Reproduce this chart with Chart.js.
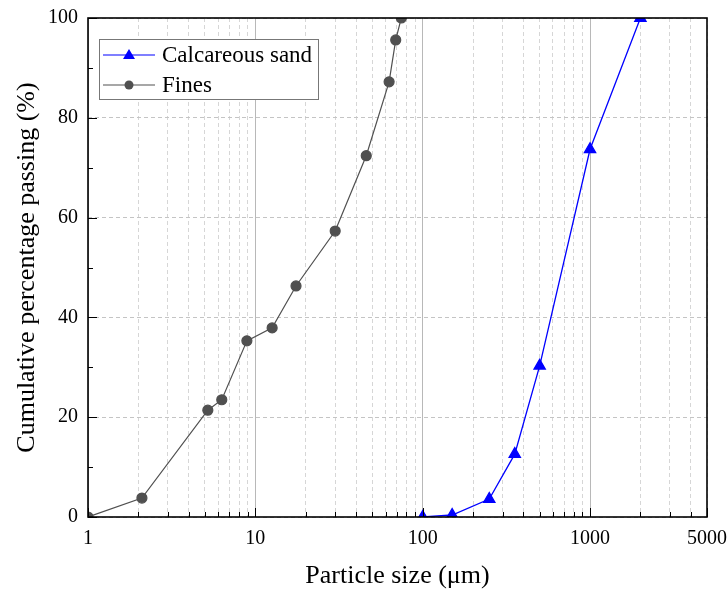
<!DOCTYPE html>
<html>
<head>
<meta charset="utf-8">
<script src="https://cdn.jsdelivr.net/npm/chart.js@4.4.0/dist/chart.umd.min.js"></script>
<style>
  html, body { margin: 0; padding: 0; background: #fff; }
  #wrap { width: 728px; height: 592px; }
</style>
</head>
<body>
<div id="wrap"><canvas id="psd"></canvas></div>
<script>
// Datos
const fineSizes = [1, 2.1, 5.2, 6.3, 8.9, 12.6, 17.5, 30, 46, 63, 69, 74.5];
const finePassing = [0, 3.8, 21.4, 23.5, 35.3, 37.9, 46.3, 57.3, 72.4, 87.2, 95.6, 100];
const sandSizes = [100, 150, 250, 355, 500, 1000, 2000];
const sandPassing = [0, 0.4, 3.6, 12.6, 30.3, 73.7, 100];
const xTickLabels = [1, 10, 100, 1000, 5000];
const yTickLabels = [0, 20, 40, 60, 80, 100];

const FONT = "'Liberation Serif', 'Times New Roman', serif";
const SAND_COLOR = "#0000ff";
const FINE_COLOR = "#505050";

function toPoints(xs, ys) {
  return xs.map((x, i) => ({ x: x, y: ys[i] }));
}

// valores de la rejilla logarítmica (1..9 por década hasta 5000)
function logGridValues() {
  const vals = [];
  for (let d = 1; d <= 1000; d *= 10) {
    for (let m = 1; m <= 9; m++) {
      const v = m * d;
      if (v <= 5000) vals.push(v);
    }
  }
  return vals;
}

function isDecade(v) {
  const l = Math.log10(v);
  return Math.abs(l - Math.round(l)) < 1e-9;
}

// Marco negro y marcas hacia dentro
const framePlugin = {
  id: "frame",
  afterDraw(chart) {
    const { ctx, chartArea: a, scales } = chart;
    ctx.save();
    ctx.strokeStyle = "#000";
    ctx.lineWidth = 1;
    // marcas del eje x
    scales.x.ticks.forEach((t) => {
      const px = Math.round(scales.x.getPixelForValue(t.value)) + 0.5;
      const len = isDecade(t.value) || t.value === 5000 ? 9 : 5;
      ctx.beginPath();
      ctx.moveTo(px, a.bottom);
      ctx.lineTo(px, a.bottom - len);
      ctx.stroke();
    });
    // marcas del eje y (mayores y menores)
    for (let v = 0; v <= 100; v += 10) {
      const py = Math.round(scales.y.getPixelForValue(v)) + 0.5;
      const len = v % 20 === 0 ? 9 : 5;
      ctx.beginPath();
      ctx.moveTo(a.left, py);
      ctx.lineTo(a.left + len, py);
      ctx.stroke();
    }
    ctx.lineWidth = 1.6;
    ctx.strokeRect(a.left, a.top, a.right - a.left, a.bottom - a.top);
    ctx.restore();
  },
};

// Leyenda dentro del área del gráfico
const legendBoxPlugin = {
  id: "legendBox",
  afterDraw(chart) {
    const { ctx, chartArea: a } = chart;
    const x0 = a.left + 11, y0 = a.top + 21, w = 219, h = 60;
    ctx.save();
    ctx.fillStyle = "#fff";
    ctx.fillRect(x0, y0, w, h);
    ctx.strokeStyle = "#777";
    ctx.lineWidth = 1;
    ctx.strokeRect(x0 + 0.5, y0 + 0.5, w, h);
    chart.data.datasets.forEach((ds, i) => {
      const cy = y0 + 16 + i * 30;
      ctx.strokeStyle = ds.borderColor;
      ctx.lineWidth = 1.2;
      ctx.beginPath();
      ctx.moveTo(x0 + 4, cy);
      ctx.lineTo(x0 + 56, cy);
      ctx.stroke();
      ctx.fillStyle = ds.pointBackgroundColor;
      ctx.beginPath();
      if (ds.pointStyle === "triangle") {
        ctx.moveTo(x0 + 30, cy - 6);
        ctx.lineTo(x0 + 36, cy + 4);
        ctx.lineTo(x0 + 24, cy + 4);
        ctx.closePath();
      } else {
        ctx.arc(x0 + 30, cy, 4.5, 0, Math.PI * 2);
      }
      ctx.fill();
      ctx.fillStyle = "#000";
      ctx.font = "23px " + FONT;
      ctx.textBaseline = "middle";
      ctx.fillText(ds.label, x0 + 63, cy + 1);
    });
    ctx.restore();
  },
};

new Chart(document.getElementById("psd"), {
  type: "line",
  data: {
    datasets: [
      {
        label: "Calcareous sand",
        data: toPoints(sandSizes, sandPassing),
        borderColor: SAND_COLOR,
        backgroundColor: SAND_COLOR,
        pointBackgroundColor: SAND_COLOR,
        pointBorderColor: SAND_COLOR,
        pointStyle: "triangle",
        pointRadius: 6.5,
        borderWidth: 1.3,
        clip: 0,
      },
      {
        label: "Fines",
        data: toPoints(fineSizes, finePassing),
        borderColor: FINE_COLOR,
        backgroundColor: FINE_COLOR,
        pointBackgroundColor: FINE_COLOR,
        pointBorderColor: FINE_COLOR,
        pointStyle: "circle",
        pointRadius: 5,
        borderWidth: 1.2,
        clip: 0,
      },
    ],
  },
  options: {
    responsive: true,
    maintainAspectRatio: false,
    animation: false,
    layout: { padding: { top: 18, right: 21, left: 0, bottom: 0 } },
    plugins: {
      legend: { display: false },
      tooltip: { enabled: false },
    },
    scales: {
      x: {
        type: "logarithmic",
        min: 1,
        max: 5000,
        afterBuildTicks(scale) {
          scale.ticks = logGridValues().map((v) => ({ value: v }));
        },
        afterFit(scale) {
          scale.height = 75;
          scale.paddingLeft = 0;
          scale.paddingRight = 0;
        },
        ticks: {
          autoSkip: false,
          maxRotation: 0,
          padding: 10,
          color: "#000",
          font: { family: FONT, size: 20 },
          callback: (v) => (xTickLabels.includes(v) ? String(v) : ""),
        },
        grid: {
          drawTicks: false,
          color: (c) => (c.tick && isDecade(c.tick.value) ? "#b8b8b8" : "#d6d6d6"),
          lineWidth: 1,
        },
        border: {
          display: false,
          dash: (c) => (c.tick && isDecade(c.tick.value) ? [] : [4, 3]),
        },
        title: {
          display: true,
          text: "Particle size (μm)",
          color: "#000",
          font: { family: FONT, size: 26 },
          padding: { top: 10, bottom: 0 },
        },
      },
      y: {
        min: 0,
        max: 100,
        afterBuildTicks(scale) {
          scale.ticks = yTickLabels.map((v) => ({ value: v }));
        },
        afterFit(scale) {
          scale.width = 88;
          scale.paddingTop = 0;
          scale.paddingBottom = 0;
        },
        ticks: {
          padding: 10,
          color: "#000",
          font: { family: FONT, size: 20 },
        },
        grid: {
          drawTicks: false,
          color: "#c4c4c4",
          lineWidth: 1,
        },
        border: { display: false, dash: [4, 3] },
        title: {
          display: true,
          text: "Cumulative percentage passing (%)",
          color: "#000",
          font: { family: FONT, size: 26 },
          padding: { top: 12, bottom: 4 },
        },
      },
    },
  },
  plugins: [framePlugin, legendBoxPlugin],
});
</script>
</body>
</html>
